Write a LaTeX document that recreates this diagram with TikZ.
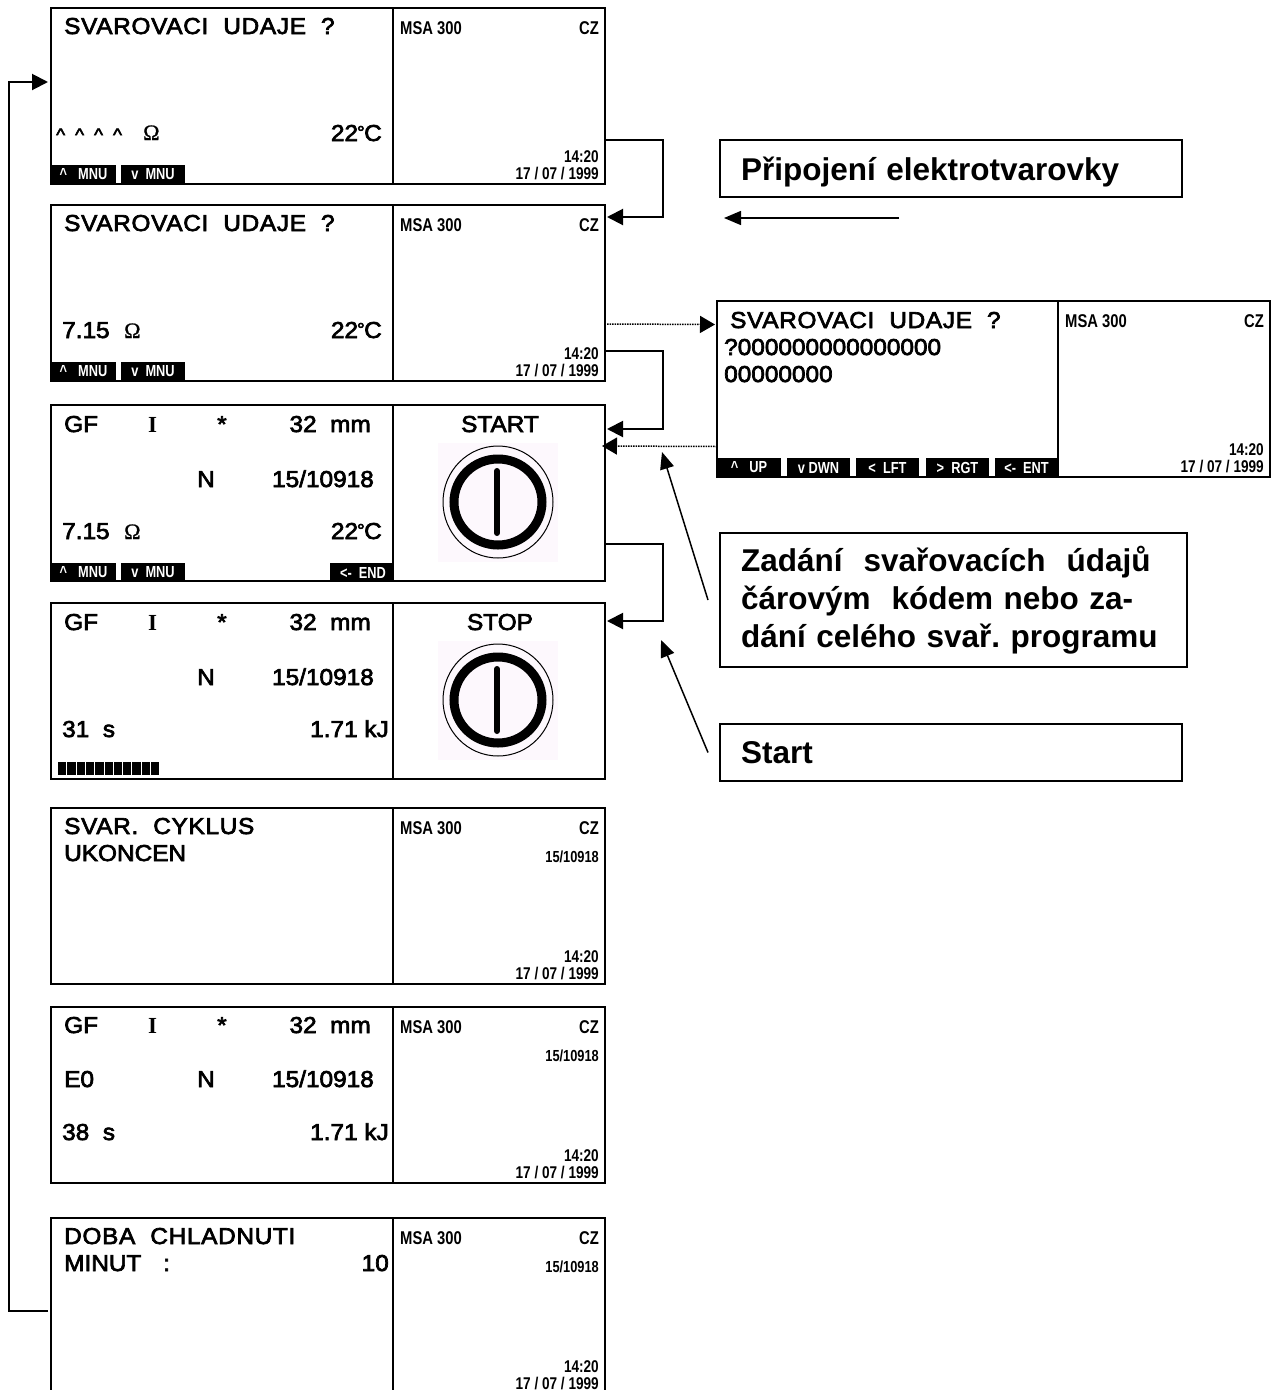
\documentclass[tikz,border=0pt]{standalone}
\usepackage{fontspec}
\setmainfont{Liberation Sans}
\newfontfamily\lcdfont[FakeStretch=1.06,FakeBold=3]{Liberation Sans}
\newfontfamily\lcdwide[FakeStretch=1.06,FakeBold=3,LetterSpace=3]{Liberation Sans}
\newfontfamily\narrowfont[FakeStretch=0.8]{Liberation Sans Bold}
\newfontfamily\omegafont[FakeBold=1]{Liberation Serif}
\newfontfamily\typefont{Liberation Serif Bold}
\usetikzlibrary{arrows.meta,positioning}
\newcommand{\lcdgap}{\hspace{15pt}}
\newcommand{\degC}{22\kern-1pt\raisebox{2.5pt}{\fontsize{18}{18}\selectfont °}\kern-0.5pt C}

\begin{document}
\begin{tikzpicture}[
  x=1pt, y=-1pt,
  pane/.style={draw, line width=2pt, rectangle, inner sep=0pt, outer sep=0pt,
               anchor=north west, minimum height=176pt},
  lcd/.style={anchor=base west, inner sep=0pt,
              font=\lcdfont\fontsize{23}{23}\selectfont},
  lcdr/.style={lcd, anchor=base east},
  lcdc/.style={lcd, anchor=base},
  headline/.style={lcd, font=\lcdwide\fontsize{23}{23}\selectfont},
  ohm/.style={anchor=base west, inner sep=0pt,
              font=\omegafont\fontsize{22}{22}\selectfont},
  typesign/.style={anchor=base west, inner sep=0pt,
              font=\typefont\fontsize{23}{23}\selectfont},
  small/.style={anchor=base west, inner sep=0pt,
                font=\narrowfont\fontsize{18.5}{18.5}\selectfont},
  smallr/.style={small, anchor=base east},
  clock/.style={smallr, font=\narrowfont\fontsize{17}{17}\selectfont},
  softkey/.style={fill=black, text=white, inner sep=0pt, outer sep=0pt,
                  anchor=north west, minimum height=19pt,
                  font=\narrowfont\fontsize{16}{16}\selectfont},
  note/.style={draw, line width=1.5pt, anchor=north west, inner ysep=0pt,
               inner xsep=21pt, outer sep=0pt, align=left,
               font=\bfseries\fontsize{31.5}{38}\selectfont},
  arr/.style={-{Triangle[length=16pt,width=16pt]}, line width=2pt},
  darr/.style={-{Triangle[length=15pt,width=17pt]}, line width=1.5pt,
               dash pattern=on 1.5pt off 1pt},
  lead/.style={-{Triangle[length=17pt,width=14pt]}, line width=1.5pt}]

\useasboundingbox (0,0) rectangle (1272,1390);

% Screen frames
\foreach \n/\x/\y in {1/51/8, 2/51/205, 3/51/405, 4/51/603, 5/51/808, 6/51/1007}{
  \node[pane, minimum width=342pt] (scr\n a) at (\x,\y) {};
  \node[pane, minimum width=212pt] (scr\n b) at (\x+342,\y) {};
}
\node[pane, minimum width=342pt, minimum height=178pt] (scr7a) at (51,1218) {};
\node[pane, minimum width=212pt, minimum height=178pt] (scr7b) at (393,1218) {};
\node[pane, minimum width=341pt] (scr8a) at (717,301) {};
\node[pane, minimum width=212pt] (scr8b) at (1058,301) {};

% Right pane: header and clock
\foreach \n/\x/\y in {1/393/8, 2/393/205, 5/393/808, 6/393/1007, 7/393/1218, 8/1058/301}{
  \node[small]  (msa\n)  at (\x+7,\y+26)    {MSA 300};
  \node[smallr] (cz\n)   at (\x+206,\y+26)  {CZ};
  \node[clock]  (time\n) at (\x+206,\y+154) {14:20};
  \node[clock]  (date\n) at (\x+206,\y+171) {17 / 07 / 1999};
}
\foreach \n/\y in {5/808, 6/1007, 7/1218}{
  \node[smallr, font=\narrowfont\fontsize{16}{16}\selectfont] (job\n) at (599,\y+54) {15/10918};
}

% Screen 1
\node[headline] (title1) at (64,34) {SVAROVACI\lcdgap UDAJE\lcdgap ?};
\node[lcd, font=\lcdfont\fontsize{18}{18}\selectfont] (hat1) at (56,141)
  {\string^\hspace{10pt}\string^\hspace{10pt}\string^\hspace{10pt}\string^};
\node[ohm]  (ohm1)   at (143,140) {Ω};
\node[lcdr] (temp1)  at (382,141) {\degC};

% Screen 2
\node[headline] (title2) at (64,231) {SVAROVACI\lcdgap UDAJE\lcdgap ?};
\node[lcd]  (res2)   at (62,338)  {7.15};
\node[ohm]  (ohm2)   at (124,338) {Ω};
\node[lcdr] (temp2)  at (382,338) {\degC};

% Screens 3 and 4: weld data
\foreach \n/\y in {3/432, 4/630}{
  \node[lcd]  (gf\n)   at (64,\y)     {GF};
  \node[typesign] (type\n) at (148,\y) {I};
  \node[lcd]  (star\n) at (217,\y)    {*};
  \node[lcdr] (dia\n)  at (371,\y)    {32\ \ mm};
  \node[lcd]  (n\n)    at (197,\y+55) {N};
  \node[lcdr] (code\n) at (374,\y+55) {15/10918};
}
\node[lcd]  (res3)  at (62,539)  {7.15};
\node[ohm]  (ohm3)  at (124,539) {Ω};
\node[lcdr] (temp3) at (382,539) {\degC};
\node[lcd]  (sec4)  at (62,737)  {31\ \ s};
\node[lcdr] (kj4)   at (389,737) {1.71 kJ};
\node[lcdc] (start3) at (500,432) {START};
\node[lcdc] (stop4)  at (500,630) {STOP};

% Power symbol
\foreach \n/\y in {3/502, 4/700}{
  \fill[fill={rgb,255:red,253;green,248;blue,253}] (438,\y-59) rectangle (558,\y+60);
  \draw[line width=1pt] (498,\y) ellipse (55 and 56);
  \draw[line width=9pt] (498,\y) ellipse (44 and 43);
  \draw[line width=6pt, line cap=round] (497,\y-31) -- (497,\y+31);
}

% Progress bar
\foreach \i in {0,...,10}{
  \fill (58+\i*9.3,762) rectangle (58+\i*9.3+8.3,775);
}

% Screen 5
\node[headline] (title5) at (64,834) {SVAR.\lcdgap CYKLUS};
\node[lcd] (end5)   at (64,861) {UKONCEN};

% Screen 6
\node[lcd]  (gf6)   at (64,1033)   {GF};
\node[typesign] (type6) at (148,1033) {I};
\node[lcd]  (star6) at (217,1033)  {*};
\node[lcdr] (dia6)  at (371,1033)  {32\ \ mm};
\node[lcd]  (err6)  at (64,1087)   {E0};
\node[lcd]  (n6)    at (197,1087)  {N};
\node[lcdr] (code6) at (374,1087)  {15/10918};
\node[lcd]  (sec6)  at (62,1140)   {38\ \ s};
\node[lcdr] (kj6)   at (389,1140)  {1.71 kJ};

% Screen 7
\node[headline] (title7) at (64,1244) {DOBA\lcdgap CHLADNUTI};
\node[lcd]  (min7)   at (64,1271)  {MINUT\lcdgap\ :};
\node[lcdr] (val7)   at (389,1271) {10};

% Screen 8: code entry
\node[headline] (title8) at (730,328) {SVAROVACI\lcdgap UDAJE\lcdgap ?};
\node[lcd] (code8a) at (724,355) {?000000000000000};
\node[lcd] (code8b) at (724,382) {00000000};

% Soft keys
\foreach \n/\y in {1/165, 2/362, 3/563}{
  \node[softkey, minimum width=65pt] (up\n)   at (51,\y)  {\string^\hspace{11pt}MNU};
  \node[softkey, minimum width=64pt] (down\n) at (121,\y) {v\ \ MNU};
}
\node[softkey, minimum width=62pt] (end3)  at (330,563)  {\hspace{4pt}<-\ \ END};
\node[softkey, minimum width=64pt] (keyup) at (717,458)  {\string^\hspace{11pt}UP};
\node[softkey, minimum width=63pt] (keydn) at (787,458)  {v\ DWN};
\node[softkey, minimum width=63pt] (keylf) at (856,458)  {<\ \ LFT};
\node[softkey, minimum width=63pt] (keyrg) at (926,458)  {>\ \ RGT};
\node[softkey, minimum width=63pt] (keyen) at (995,458)  {<-\ \ ENT};

% Notes
\node[note, minimum width=462pt, minimum height=57pt, text width=420pt, text depth=0pt] (conn)
  at (720,140) {Připojení elektrotvarovky};
\node[note, minimum width=467pt, minimum height=134pt, text width=425pt] (entry)
  at (720,533) {Zadání\ \ svařovacích\ \ údajů\\čárovým\ \ kódem nebo za-\\dání celého svař.\ programu};
\node[note, minimum width=462pt, minimum height=57pt, text width=420pt] (startn)
  at (720,724) {Start};

\coordinate (conntail) at (899,218);
\coordinate (connhead) at (724,218);
\coordinate (entryhead) at (662,452);
\coordinate (starthead) at (661,640);

% Forward chain
\draw[arr] ([yshift=-44pt]scr1b.east) -- ++(58,0) |- ([xshift=2pt,yshift=76pt]scr2b.east);
\draw[arr] ([yshift=-58pt]scr2b.east) -- ++(58,0) |- ([xshift=2pt,yshift=64pt]scr3b.east);
\draw[arr] ([yshift=-51pt]scr3b.east) -- ++(58,0) |- ([xshift=2pt,yshift=70pt]scr4b.east);

% Code entry and back
\draw[darr] ([xshift=2pt,yshift=-31pt]scr2b.east) -- ([xshift=-2pt,yshift=64.5pt]scr8a.west);
\draw[darr] ([yshift=-57.5pt]scr8a.west) -- ([xshift=-3pt,yshift=47pt]scr3b.east);

% Return to first screen
\draw[arr] ([xshift=-3pt,yshift=-4pt]scr7a.west) -- ++(-39,0) |- ([xshift=-3pt,yshift=14pt]scr1a.west);

% Leaders from the notes
\draw[lead] (conntail) -- (connhead);
\draw[lead] ([xshift=-12pt]entry.west) -- (entryhead);
\draw[lead] ([xshift=-12pt]startn.west) -- (starthead);
\end{tikzpicture}
\end{document}
